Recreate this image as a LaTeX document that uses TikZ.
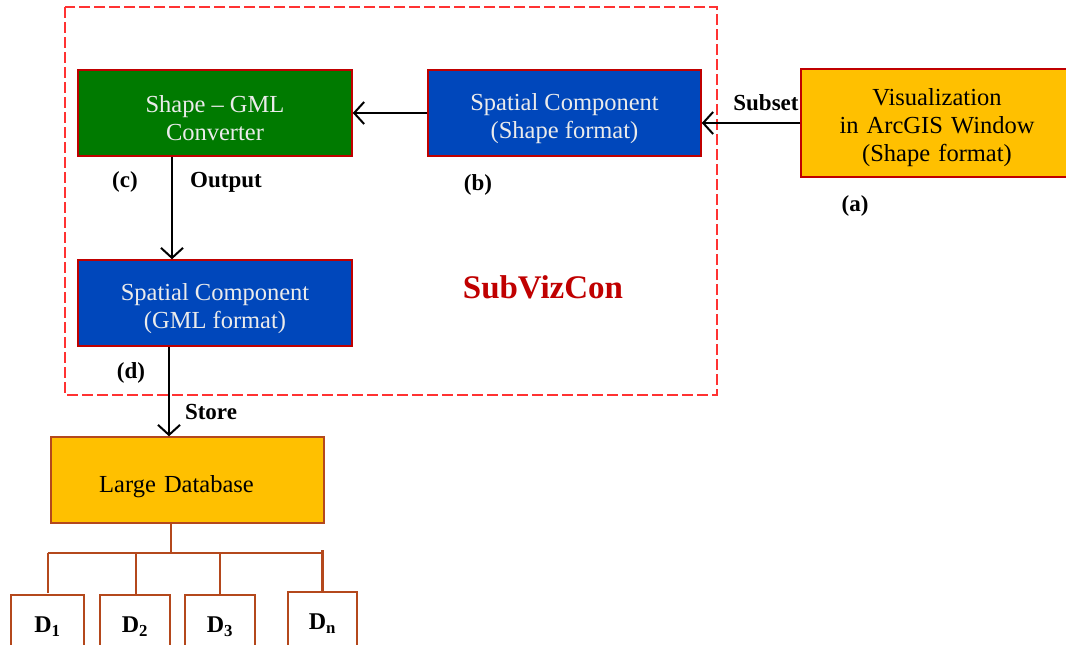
\documentclass[tikz,border=0pt]{standalone}
\usepackage{fontspec}
\setmainfont{Liberation Serif}
\usetikzlibrary{arrows.meta}
\definecolor{boxgreen}{RGB}{0,122,0}
\definecolor{boxblue}{RGB}{0,71,187}
\definecolor{boxorange}{RGB}{255,192,0}
\definecolor{boxred}{RGB}{192,0,0}
\definecolor{rust}{RGB}{180,72,28}
\definecolor{dashred}{RGB}{255,50,50}
\definecolor{titlered}{RGB}{192,0,0}
\definecolor{paletext}{RGB}{235,235,235}
\newcommand{\topstrut}[1]{\rule{0pt}{#1}}
\tikzset{
  boxtext/.style={font=\fontsize{24.5}{28}\selectfont, align=center},
  procbox/.style={draw=boxred, line width=1.5pt, rectangle, inner sep=0pt, boxtext},
  labeltext/.style={font=\fontsize{23}{24}\selectfont\bfseries, inner sep=0pt},
  arr/.style={draw=black, line width=1.6pt, -{Straight Barb[length=10pt,width=22pt,line width=2pt]}},
  treeline/.style={draw=rust, line width=2pt},
  dbox/.style={draw=rust, line width=2pt, fill=white, rectangle, minimum height=64pt, anchor=north, inner sep=0pt, font=\fontsize{24}{24}\selectfont\bfseries}
}
\begin{document}
\begin{tikzpicture}[x=1pt,y=-1pt]
\clip (0,0) rectangle (1066,645);
\fill[white] (0,0) rectangle (1066,645);
% dashed frame
\draw[draw=dashred, line width=1.3pt, dash pattern=on 11pt off 4pt] (65,7) rectangle (717,395);

\node[procbox, fill=boxgreen, text=paletext, minimum width=274pt, minimum height=86pt] (c) at (215,113) {\topstrut{28pt}Shape -- GML\\Converter};
\node[procbox, fill=boxblue, text=paletext, minimum width=273pt, minimum height=86pt] (b) at (564.5,113) {\topstrut{28pt}Spatial Component\\(Shape format)};
\node[procbox, fill=boxorange, text=black, minimum width=269pt, minimum height=108pt, text width=269pt] (a) at (935.5,123) {\topstrut{27pt}\hspace*{3pt}Visualization\\\hspace*{3pt}in ArcGIS Window\\\hspace*{3pt}(Shape format)};
\node[procbox, fill=boxblue, text=paletext, minimum width=274pt, minimum height=86pt] (d) at (215,303) {\topstrut{28pt}Spatial Component\\(GML format)};
\node[procbox, draw=rust, fill=boxorange, text=black, minimum width=273pt, minimum height=86pt, text width=273pt] (db) at (187.5,480) {\topstrut{30pt}\hspace*{-22pt}Large Database};

% labels
\node[labeltext] (la) at (855,206) {(a)};
\node[labeltext] (lb) at (478,185) {(b)};
\node[labeltext] (lc) at (125,182) {(c)};
\node[labeltext] (lout) at (226,182) {Output};
\node[labeltext] (lsub) at (766,103) {Subset};
\node[labeltext] (ld) at (131,373) {(d)};
\node[labeltext] (lstore) at (211,412) {Store};
\node[font=\fontsize{33}{34}\selectfont\bfseries, text=titlered, inner sep=0pt] (title) at (543,287) {SubVizCon};

% arrows
\draw[arr] (a.west) -- (b.east |- a.west);
\draw[arr] (b.west) -- (c.east);
\coordinate (cA) at ([xshift=-43pt]c.south);
\draw[arr] (cA) -- (cA |- d.north);
\coordinate (dA) at ([xshift=-46pt]d.south);
\draw[arr] (dA) -- (dA |- db.north);

% database children
\node[dbox, minimum width=73pt] (d1) at (47.5,594) {D$_{\mathbf{1}}$};
\node[dbox, minimum width=70pt] (d2) at (135,594) {D$_{\mathbf{2}}$};
\node[dbox, minimum width=70pt] (d3) at (220,594) {D$_{\mathbf{3}}$};
\node[dbox, minimum width=69pt] (dn) at (322.5,591) {D$_{\mathbf{n}}$};

\coordinate (dbA) at ([xshift=-16.5pt]db.south);
\coordinate (j) at (dbA |- 0,553);
\draw[treeline] (dbA) -- (j);
\draw[treeline] (d1.north |- j) -- ([yshift=1pt]d1.north);
\draw[treeline] (d1.north |- j) -- (dn.north |- j);
\draw[treeline] ([xshift=1pt]d2.north |- j) -- ([xshift=1pt]d2.north);
\draw[treeline] (d3.north |- j) -- (d3.north);
\draw[treeline, line width=3pt] ([yshift=3pt]dn.north |- j) -- (dn.north);
\end{tikzpicture}
\end{document}
